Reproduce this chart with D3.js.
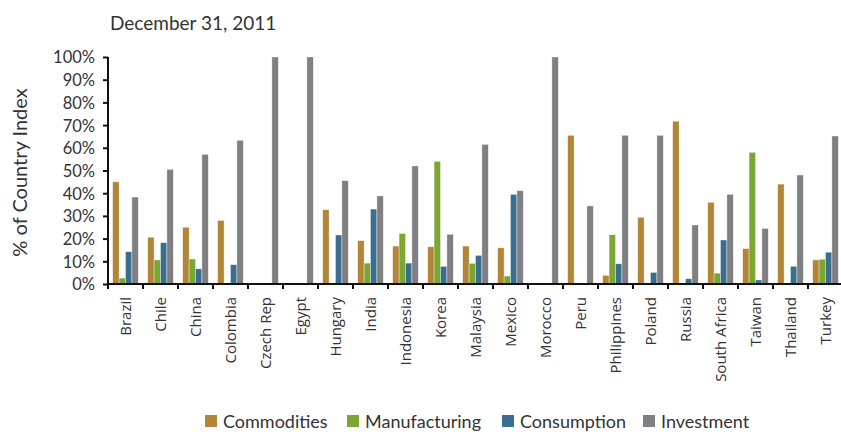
<!DOCTYPE html>
<html>
<head>
<meta charset="utf-8">
<script src="https://cdn.jsdelivr.net/npm/d3@7"></script>
<style>
  body { margin: 0; background: #fff; }
  text { fill: #333; }
</style>
</head>
<body>
<svg id="chart" width="841" height="432"></svg>
<script>
(function () {
  'use strict';

  // Values (% of country index)
  const countries = ['Brazil', 'Chile', 'China', 'Colombia', 'Czech Rep', 'Egypt', 'Hungary', 'India',
    'Indonesia', 'Korea', 'Malaysia', 'Mexico', 'Morocco', 'Peru', 'Philippines', 'Poland', 'Russia',
    'South Africa', 'Taiwan', 'Thailand', 'Turkey'];
  const commodities   = [45, 20.6, 25, 28, 0, 0, 32.7, 19.1, 16.7, 16.4, 16.7, 15.9, 0, 65.5, 3.8, 29.4, 71.7, 36, 15.6, 44, 10.6];
  const manufacturing = [2.6, 10.6, 11, 0, 0, 0, 0, 9.2, 22.2, 54, 9.1, 3.5, 0, 0, 21.7, 0, 0, 4.8, 58, 0, 10.9];
  const consumption   = [14.2, 18.2, 6.7, 8.5, 0, 0, 21.6, 33, 9.2, 7.8, 12.6, 39.5, 0, 0, 8.9, 5.1, 2.3, 19.4, 1.8, 7.8, 14];
  const investment    = [38.3, 50.5, 57.1, 63.3, 100, 100, 45.5, 38.8, 52, 21.9, 61.5, 41.1, 100, 34.4, 65.5, 65.5, 26, 39.5, 24.5, 48, 65.2];
  const seriesNames = ['Commodities', 'Manufacturing', 'Consumption', 'Investment'];
  const seriesValues = [commodities, manufacturing, consumption, investment];
  const yTicks = [0, 10, 20, 30, 40, 50, 60, 70, 80, 90, 100];
  const colors = ['#b38536', '#7aa632', '#3a6e90', '#808084'];

  const svg = d3.select('#chart');
  const margin = {top: 57, right: 0, bottom: 148, left: 108};
  const width = 843 - margin.left;
  const height = 432 - margin.top - margin.bottom;

  const x = d3.scaleBand().domain(countries).range([0, width]).paddingInner(0).paddingOuter(0);
  const xInner = d3.scaleBand().domain(seriesNames).range([4.7, x.bandwidth() - 4.7]).padding(0);
  const y = d3.scaleLinear().domain([0, 100]).range([height, 0]);

  const g = svg.append('g').attr('transform', 'translate(' + margin.left + ',' + margin.top + ')');

  // Title
  svg.append('text')
    .attr('x', 110).attr('y', 29.5)
    .style('font-family', 'Lato, sans-serif')
    .style('font-size', '19px')
    .text('December 31, 2011');

  // Y axis label
  svg.append('text')
    .attr('transform', 'translate(27,' + (margin.top + height / 2 + 2) + ') rotate(-90)')
    .attr('text-anchor', 'middle')
    .style('font-family', 'Lato, sans-serif')
    .style('font-size', '20px')
    .text('% of Country Index');

  // Bars
  const rows = countries.map((c, i) => ({country: c, values: seriesNames.map((s, j) => ({series: s, idx: j, v: seriesValues[j][i]}))}));

  const groups = g.selectAll('.grp').data(rows).join('g')
    .attr('class', 'grp')
    .attr('transform', d => 'translate(' + x(d.country) + ',0)');

  groups.selectAll('rect').data(d => d.values.filter(v => v.v > 0)).join('rect')
    .attr('x', d => xInner(d.series))
    .attr('width', xInner.bandwidth())
    .attr('y', d => y(d.v))
    .attr('height', d => height - y(d.v))
    .attr('fill', d => colors[d.idx])
    .attr('stroke', '#fff')
    .attr('stroke-opacity', 0.6)
    .attr('stroke-width', 0.6);

  // Y axis
  const yAxis = g.append('g')
    .call(d3.axisLeft(y).tickValues(yTicks).tickFormat(d => d + '%').tickSize(5).tickPadding(8));
  yAxis.select('.domain').attr('stroke', '#111').attr('stroke-width', 2).attr('d', 'M0,' + (height + 1) + 'V0');
  yAxis.selectAll('.tick line').attr('stroke', '#111').attr('stroke-width', 2);
  yAxis.selectAll('.tick text')
    .style('font-family', 'Lato, sans-serif')
    .style('font-size', '16.5px')
    .attr('fill', '#333')
    .attr('dy', '0.36em');

  // X axis: ticks on category boundaries
  const xAxis = g.append('g').attr('transform', 'translate(0,' + height + ')');
  xAxis.append('line')
    .attr('x1', -1).attr('x2', width)
    .attr('stroke', '#111').attr('stroke-width', 2);
  xAxis.selectAll('.bt').data(countries).join('line')
    .attr('class', 'bt')
    .attr('x1', d => x(d)).attr('x2', d => x(d))
    .attr('y1', 0).attr('y2', 5)
    .attr('stroke', '#111').attr('stroke-width', 2);
  xAxis.selectAll('.lbl').data(countries).join('text')
    .attr('class', 'lbl')
    .attr('transform', d => 'translate(' + (x(d) + x.bandwidth() / 2 + 5.5) + ',13) rotate(-90)')
    .attr('text-anchor', 'end')
    .style('font-family', '"Open Sans", sans-serif')
    .style('font-size', '15px')
    .text(d => d);

  // Legend (nudged up slightly so descenders stay inside the frame)
  const legend = svg.append('g').attr('transform', 'translate(205,415)');
  const legendX = [0, 142, 297, 438];
  seriesNames.forEach((s, i) => {
    const item = legend.append('g').attr('transform', 'translate(' + legendX[i] + ',0)');
    item.append('rect').attr('width', 12).attr('height', 12).attr('fill', colors[i]);
    item.append('text')
      .attr('x', 18).attr('y', 12.5)
      .style('font-family', 'Lato, sans-serif')
      .style('font-size', '18px')
      .text(s);
  });
}());
</script>
</body>
</html>
